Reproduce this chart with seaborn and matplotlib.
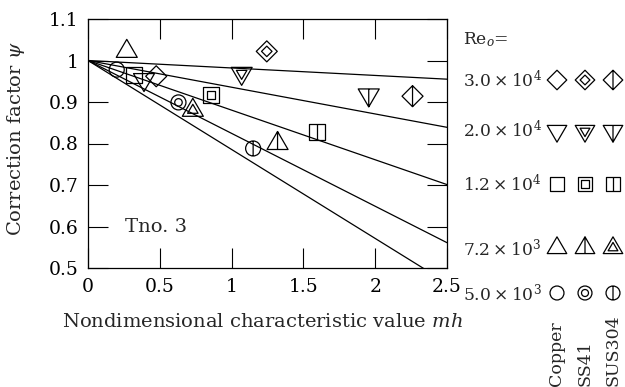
import numpy as np
import pandas as pd
import matplotlib
matplotlib.use("Agg")
import matplotlib.pyplot as plt
import seaborn as sns
from matplotlib.path import Path

# ---------------- data ----------------
re_keys = ["3.0e4", "2.0e4", "1.2e4", "7.2e3", "5.0e3"]
re_labels = [r"$3.0\times10^{4}$", r"$2.0\times10^{4}$", r"$1.2\times10^{4}$",
             r"$7.2\times10^{3}$", r"$5.0\times10^{3}$"]
line_mh = [0.0, 2.5]
line_psi_at_end = [0.955, 0.839, 0.701, 0.561, 0.464]

materials = ["Copper", "SS41", "SUS304"]
copper_mh = [0.475, 0.39, 0.32, 0.27, 0.20]
copper_psi = [0.962, 0.954, 0.966, 1.022, 0.978]
ss41_mh = [1.245, 1.07, 0.86, 1.32, 0.63]
ss41_psi = [1.022, 0.969, 0.918, 0.80, 0.899]
sus304_mh = [2.26, 1.955, 1.595, 0.73, 1.15]
sus304_psi = [0.914, 0.917, 0.827, 0.88, 0.788]

x_ticks = [0, 0.5, 1, 1.5, 2, 2.5]
x_tick_labels = ["0", "0.5", "1", "1.5", "2", "2.5"]
y_ticks = [0.5, 0.6, 0.7, 0.8, 0.9, 1.0, 1.1]
y_tick_labels = ["0.5", "0.6", "0.7", "0.8", "0.9", "1", "1.1"]

# marker shape per Re and variant per material
shapes = ["diamond", "tri_down", "square", "tri_up", "circle"]
variants = {
    "Copper": ["plain"] * 5,
    "SS41": ["double", "double", "double", "line", "double"],
    "SUS304": ["line", "line", "line", "double", "line"],
}

# ---------------- style ----------------
sns.set_style("ticks")
plt.rcParams["font.family"] = ["DejaVu Serif"]
plt.rcParams["mathtext.fontset"] = "dejavuserif"
FS_LABEL = 14
FS_TICK = 13.5
FS_LEG = 12.3
FS_MAT = 12.5

W, H = 625, 387
fig = plt.figure(figsize=(W / 100, H / 100), dpi=100)


def poly(verts):
    verts = list(verts) + [verts[0]]
    codes = [Path.MOVETO] + [Path.LINETO] * (len(verts) - 2) + [Path.CLOSEPOLY]
    return Path(verts, codes)


def base_shape(name, k=1.0):
    if name == "diamond":
        r = 10.5 * k
        return poly([(0, r), (r, 0), (0, -r), (-r, 0)]), (r, -r)
    if name == "square":
        h = 8 * k
        return poly([(-h, -h), (h, -h), (h, h), (-h, h)]), (h, -h)
    if name == "circle":
        r = 7.5 * k
        return Path.circle((0, 0), r), (r, -r)
    if name == "tri_up":
        w, t = 10.5 * k, 18 * k
        return poly([(0, 2 * t / 3), (-w, -t / 3), (w, -t / 3)]), (2 * t / 3, -t / 3)
    if name == "tri_down":
        w, t = 10.5 * k, 18 * k
        return poly([(0, -2 * t / 3), (w, t / 3), (-w, t / 3)]), (t / 3, -2 * t / 3)


def make_marker(name, variant, k=1.0):
    outer, (top, bot) = base_shape(name, k)
    parts = [outer]
    if variant == "double":
        inner, _ = base_shape(name, k * 0.5)
        parts.append(inner)
    elif variant == "line":
        parts.append(Path([(0, bot), (0, top)], [Path.MOVETO, Path.LINETO]))
    p = Path.make_compound_path(*parts)
    size_pt = 2 * np.max(np.abs(p.vertices)) * 0.72
    return p, size_pt


def draw_point(axis, x, y, name, variant, k=1.0):
    p, sz = make_marker(name, variant, k)
    sns.scatterplot(x=[x], y=[y], marker=p, s=sz ** 2, facecolor="none",
                    edgecolor="black", linewidth=0.9, ax=axis, zorder=5,
                    clip_on=False)


# ---------------- main axes ----------------
ax = fig.add_axes([88 / W, (H - 268) / H, 359 / W, 249 / H])

rows = []
for key, end in zip(re_keys, line_psi_at_end):
    rows.append({"mh": line_mh[0], "psi": 1.0, "re": key})
    rows.append({"mh": line_mh[1], "psi": end, "re": key})
lines_df = pd.DataFrame(rows)
sns.lineplot(data=lines_df, x="mh", y="psi", units="re", estimator=None,
             color="black", linewidth=0.9, ax=ax, legend=False)

mat_data = {"Copper": (copper_mh, copper_psi), "SS41": (ss41_mh, ss41_psi),
            "SUS304": (sus304_mh, sus304_psi)}
for mat in materials:
    xs, ys = mat_data[mat]
    for i in range(len(re_keys)):
        draw_point(ax, xs[i], ys[i], shapes[i], variants[mat][i])

ax.set_xlim(0, 2.5)
ax.set_ylim(0.5, 1.1)
ax.set_xticks(x_ticks)
ax.set_xticklabels(x_tick_labels)
ax.set_yticks(y_ticks)
ax.set_yticklabels(y_tick_labels)
ax.tick_params(direction="in", length=14.5, width=0.8, top=True, right=True,
               labelsize=FS_TICK, pad=7, colors="black")
for s in ax.spines.values():
    s.set_linewidth(0.9)
    s.set_color("black")
    s.set_visible(True)

ax.set_xlabel(r"Nondimensional characteristic value $mh$", fontsize=FS_LABEL)
ax.set_ylabel(r"Correction factor $\psi$", fontsize=FS_LABEL)
ax.xaxis.set_label_coords(0.485, -0.18)
ax.yaxis.set_label_coords(-0.17, 0.52)
ax.text(0.26, 0.598, "Tno. 3", fontsize=FS_LABEL, ha="left", va="center")

# ---------------- legend (pixel layout) ----------------
lax = fig.add_axes([0, 0, 1, 1], facecolor="none")
lax.set_xlim(0, W)
lax.set_ylim(H, 0)
lax.axis("off")
legend_row_y = [80, 131, 184, 248, 293]
legend_col_x = [557, 585, 613]
lax.text(463, 40, r"$\mathrm{Re}_{o}$=", fontsize=FS_LEG, ha="left", va="center")
for i, lab in enumerate(re_labels):
    lax.text(463, legend_row_y[i], lab, fontsize=FS_LEG, ha="left", va="center")
    for j, mat in enumerate(materials):
        draw_point(lax, legend_col_x[j], legend_row_y[i], shapes[i],
                   variants[mat][i], k=0.93)
for j, mat in enumerate(materials):
    lax.text(legend_col_x[j], 386, mat, fontsize=FS_MAT, rotation=90,
             ha="center", va="bottom")

fig.savefig("out.png", dpi=100)
